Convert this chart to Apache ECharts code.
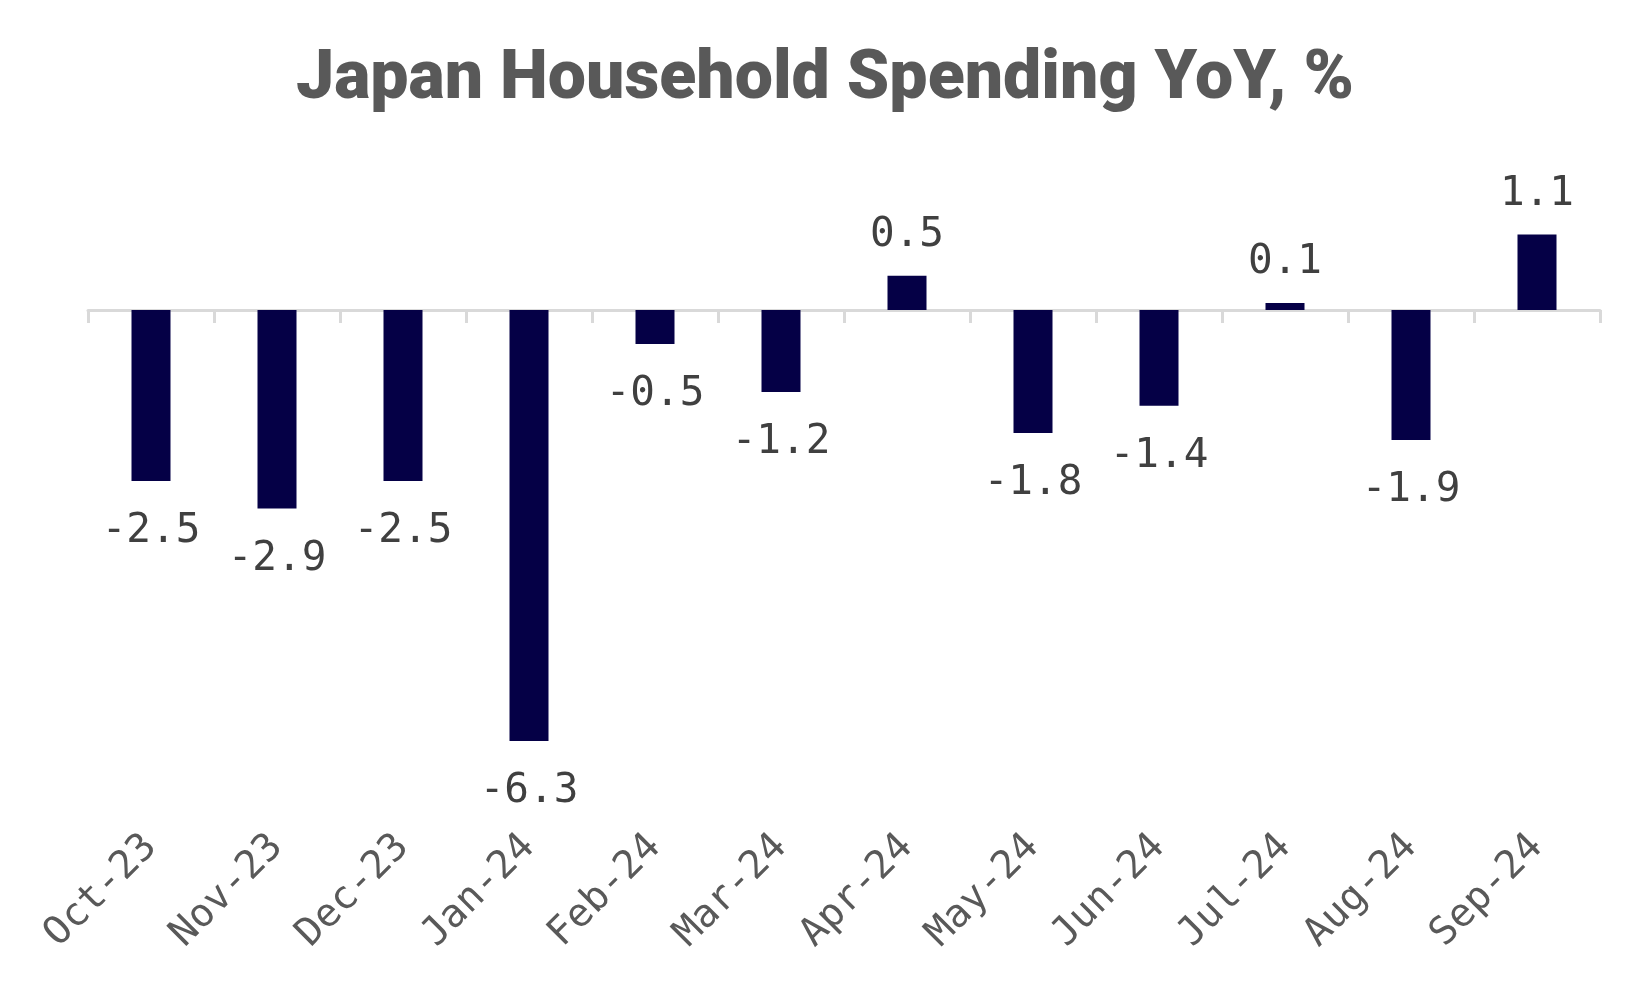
<!DOCTYPE html>
<html>
<head>
<meta charset="utf-8">
<script src="https://cdn.jsdelivr.net/npm/echarts@6/dist/echarts.min.js"></script>
<style>
html,body{margin:0;padding:0;background:#fff;}
#chart{width:1650px;height:990px;}
</style>
</head>
<body>
<div id="chart"></div>
<script>
const categories = ['Oct-23','Nov-23','Dec-23','Jan-24','Feb-24','Mar-24','Apr-24','May-24','Jun-24','Jul-24','Aug-24','Sep-24'];
const values = [-2.5, -2.9, -2.5, -6.3, -0.5, -1.2, 0.5, -1.8, -1.4, 0.1, -1.9, 1.1];
const titleText = 'Japan Household Spending YoY, %';

const mono = '"DejaVu Sans Mono", "Liberation Mono", monospace';
const chart = echarts.init(document.getElementById('chart'), null, {renderer:'canvas'});
const data = values.map(v => ({
  value: v,
  label: { position: v >= 0 ? 'top' : 'bottom', distance: v >= 0 ? 20 : 30 }
}));
chart.setOption({
  animation: false,
  backgroundColor: '#ffffff',
  title: {
    text: titleText,
    left: 'center',
    top: 42,
    textStyle: { fontFamily: 'Roboto', fontWeight: 900, fontSize: 68, color: '#595959' }
  },
  grid: { left: 88, right: 50, top: 173, height: 616, containLabel: false },
  xAxis: [
    {
      type: 'category', data: categories, position: 'bottom',
      axisLine: { onZero: true, lineStyle: { color: '#D9D9D9', width: 3 } },
      axisTick: { show: true, length: 13, lineStyle: { color: '#D9D9D9', width: 3 } },
      axisLabel: { show: false }
    },
    {
      type: 'category', data: categories, position: 'bottom',
      axisLine: { show: false, onZero: false },
      axisTick: { show: false },
      axisLabel: { show: true, rotate: 45, margin: 52, fontFamily: mono, fontSize: 39, color: '#595959' }
    }
  ],
  yAxis: {
    type: 'value', min: -7, max: 2, show: false,
    splitLine: { show: false }
  },
  series: [{
    type: 'bar',
    xAxisIndex: 0,
    data: data,
    barWidth: 39,
    itemStyle: { color: '#050046' },
    label: {
      show: true,
      fontFamily: mono, fontSize: 41, color: '#404040',
      formatter: p => p.value.toFixed(1)
    }
  }]
});
</script>
</body>
</html>
